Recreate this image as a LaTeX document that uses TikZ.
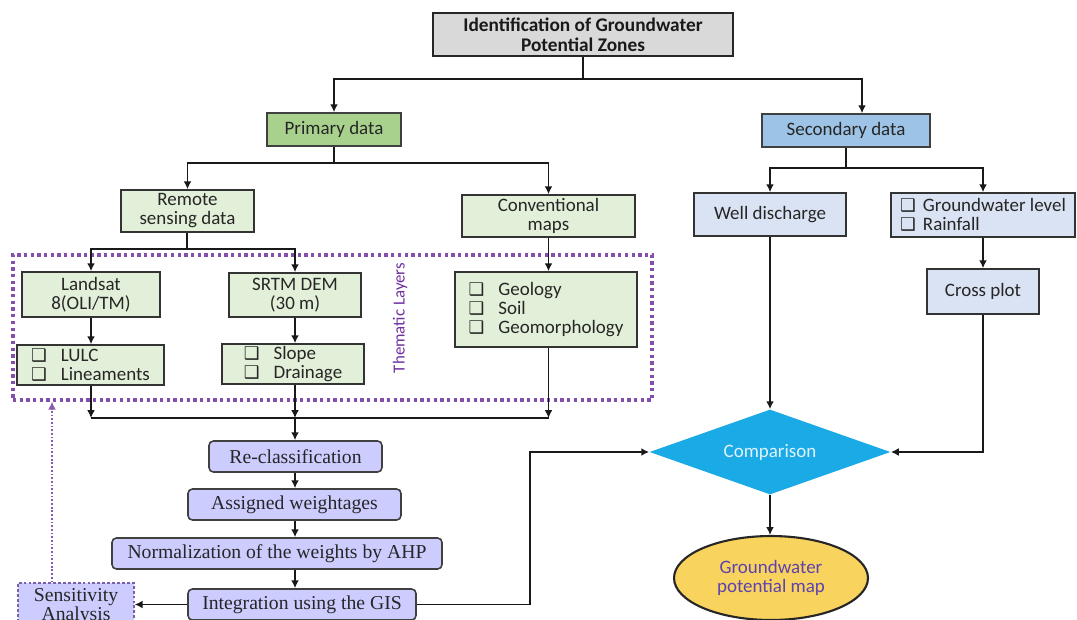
\documentclass[tikz,border=0pt]{standalone}
\usepackage{fontspec}
\setmainfont{Carlito}
\newfontfamily\tnr{Liberation Serif}
\newfontfamily\djv{DejaVu Sans}
\usetikzlibrary{arrows.meta,shapes.geometric,calc}
\definecolor{titlegray}{HTML}{D9D9D9}
\definecolor{primgreen}{HTML}{A9D18E}
\definecolor{lightgreen}{HTML}{E2F0D9}
\definecolor{secblue}{HTML}{9DC3E6}
\definecolor{lightblue}{HTML}{DAE3F3}
\definecolor{lavender}{HTML}{CCCCFF}
\definecolor{thempurple}{HTML}{7030A0}
\definecolor{sensborder}{HTML}{7A62A8}
\definecolor{compblue}{HTML}{1AAAE6}
\definecolor{gold}{HTML}{F8D35E}
\definecolor{elltext}{HTML}{5E42AE}
\definecolor{comptext}{HTML}{E2F2FF}
\definecolor{txt}{HTML}{262626}
\newcommand\chk{{\djv\fontsize{10}{9}\selectfont ❑}}
\newcommand\bx[7]{\node[#6, minimum width={(#4-#2)*0.02cm}, minimum height={(#5-#3)*0.02cm}] (#1) at ({(#2+#4)/2},{(#3+#5)/2}) {#7};}
\tikzset{
  basebox/.style={inner sep=0pt, text=txt, font=\fontsize{10.8}{10.8}\selectfont, align=center},
  titlebox/.style={basebox, fill=titlegray, draw=black!85, line width=1.5pt, font=\bfseries\fontsize{11}{11.2}\selectfont, text=black!90},
  primbox/.style={basebox, fill=primgreen, draw=black!75, line width=0.9pt},
  secbox/.style={basebox, fill=secblue, draw=black!75, line width=0.9pt},
  gbox/.style={basebox, fill=lightgreen, draw=black!80, line width=0.9pt},
  bbox/.style={basebox, fill=lightblue, draw=black!80, line width=0.9pt},
  thembox/.style={draw=thempurple!85, line width=1.9pt, dash pattern=on 1.9pt off 1.9pt},
  pbox/.style={inner sep=0pt, fill=lavender, draw=black!75, line width=0.9pt, rounded corners=2.5pt, font=\tnr\fontsize{11.2}{11.2}\selectfont, text=black!85},
  sbox/.style={inner sep=0pt, fill=lavender, draw=sensborder, line width=0.8pt, dash pattern=on 1.6pt off 1.2pt, font=\tnr\fontsize{11.2}{10.6}\selectfont, text=black!85, align=center},
  compbox/.style={diamond, aspect=2.84, inner sep=0pt, minimum width=4.82cm, minimum height=1.7cm, fill=compblue, text=comptext, font=\fontsize{10.8}{10.8}\selectfont},
  ellbox/.style={ellipse, inner sep=0pt, minimum width=3.88cm, minimum height=1.68cm, fill=gold, draw=black!85, line width=1.2pt, text=elltext, align=center, font=\fontsize{10.8}{10.8}\selectfont},
  conn/.style={line width=1pt, draw=black!90},
  arr/.style={conn, -{Latex[length=4.5pt,width=4.5pt]}},
  dotarr/.style={line width=1pt, draw=thempurple!80, dash pattern=on 1pt off 1.1pt, -{Latex[length=4.5pt,width=4.5pt]}},
}
\begin{document}
\begin{tikzpicture}[x=0.02cm, y=-0.02cm]
\useasboundingbox (0,0) rectangle (1077,619);
\fill[white] (0,0) rectangle (1077,619);
% nodes
\bx{title}{433}{13}{733}{56}{titlebox}{Identification of Groundwater\\Potential Zones}
\bx{prim}{267}{113}{401}{146}{primbox}{Primary data}
\bx{sec}{762}{114}{930}{147}{secbox}{Secondary data}
\bx{rem}{121}{190}{254}{232}{gbox}{Remote\\sensing data}
\bx{conv}{462}{195}{635}{237}{gbox}{Conventional\\maps}
\bx{well}{694}{193}{846}{236}{bbox}{Well discharge}
\bx{gw}{891}{193}{1075}{237}{bbox,align=left}{\chk\hspace{4pt}Groundwater level\\\chk\hspace{4pt}Rainfall}
\bx{cross}{927}{269}{1039}{314}{bbox}{Cross plot}
\bx{them}{13}{255}{652}{400}{thembox}{}
\bx{lands}{22}{272}{160}{317}{gbox}{Landsat\\8(OLI/TM)}
\bx{srtm}{229}{273}{361}{317}{gbox}{SRTM DEM\\(30 m)}
\bx{geo}{455}{272}{637}{347}{gbox,align=left}{\chk\hspace{8pt}Geology\\\chk\hspace{8pt}Soil\\\chk\hspace{8pt}Geomorphology}
\bx{lulc}{17}{345}{164}{385}{gbox,align=left}{\chk\hspace{8pt}LULC\\\chk\hspace{8pt}Lineaments}
\bx{slope}{222}{344}{364}{384}{gbox,align=left}{\chk\hspace{8pt}Slope\\\chk\hspace{8pt}Drainage}
\node[rotate=90, text=thempurple, font=\fontsize{9.6}{9.6}\selectfont] (tl) at (400,318) {Thematic Layers};
\bx{recl}{209}{441}{382}{472}{pbox}{Re-classification}
\bx{assg}{188}{489}{401}{520}{pbox}{Assigned weightages}
\bx{norm}{112}{538}{442}{569}{pbox}{Normalization of the weights by AHP}
\bx{integ}{188}{589}{416}{620}{pbox}{Integration using the GIS}
\bx{sens}{18}{583}{134}{630}{sbox}{Sensitivity\\Analysis}
\node[compbox] (comp) at (770,452) {Comparison};
\node[ellbox] (ell) at (771,578) {Groundwater\\potential map};
% junctions
\coordinate (j1) at (583,79);
\coordinate (j2) at (334,163);
\coordinate (j3) at (846,168);
\coordinate (j4) at (187,249);
\coordinate (j5) at (295,418);
% connectors
\draw[conn] (title.south -| j1) -- (j1);
\draw[arr] (j1) -| (prim.north);
\draw[arr] (j1) -| ([xshift=0.32cm]sec.north);
\draw[conn] (prim.south -| j2) -- (j2);
\draw[arr] (j2) -| (rem.north);
\draw[arr] (j2) -| (conv.north);
\draw[conn] (sec.south -| j3) -- (j3);
\draw[arr] (j3) -| (well.north);
\draw[arr] (j3) -| (gw.north);
\draw[conn] (rem.south -| j4) -- (j4);
\draw[arr] (j4) -| (lands.north);
\draw[arr] (j4) -| (srtm.north);
\draw[arr] (lands.south) -- (lulc.north -| lands.south);
\draw[arr] (srtm.south) -- (slope.north -| srtm.south);
\draw[arr] (conv.south) -- (geo.north -| conv.south);
\draw[arr] (lulc.south -| lands.south) -- (j5 -| lands.south);
\draw[arr] (slope.south -| srtm.south) -- (j5 -| srtm.south);
\draw[arr] (geo.south -| conv.south) -- (j5 -| conv.south);
\draw[conn] (j5 -| lands.south) -- (j5 -| conv.south);
\draw[arr] (j5) -- (recl.north -| j5);
\draw[arr] (recl.south -| j5) -- (assg.north -| j5);
\draw[arr] (assg.south -| j5) -- (norm.north -| j5);
\draw[arr] (norm.south -| j5) -- (integ.north -| j5);
\draw[arr] (integ.west) -- (sens.east |- integ.west);
\draw[dotarr] (sens.north -| 52,0) -- (them.south -| 52,0);
\draw[arr] (integ.east) -- (integ.east -| 530,0) |- (comp.west);
\draw[arr] (well.south -| comp.north) -- (comp.north);
\draw[arr] (gw.south -| cross.north) -- (cross.north);
\draw[arr] (cross.south) |- (comp.east);
\draw[arr] (comp.south) -- (ell.north -| comp.south);
\end{tikzpicture}
\end{document}
